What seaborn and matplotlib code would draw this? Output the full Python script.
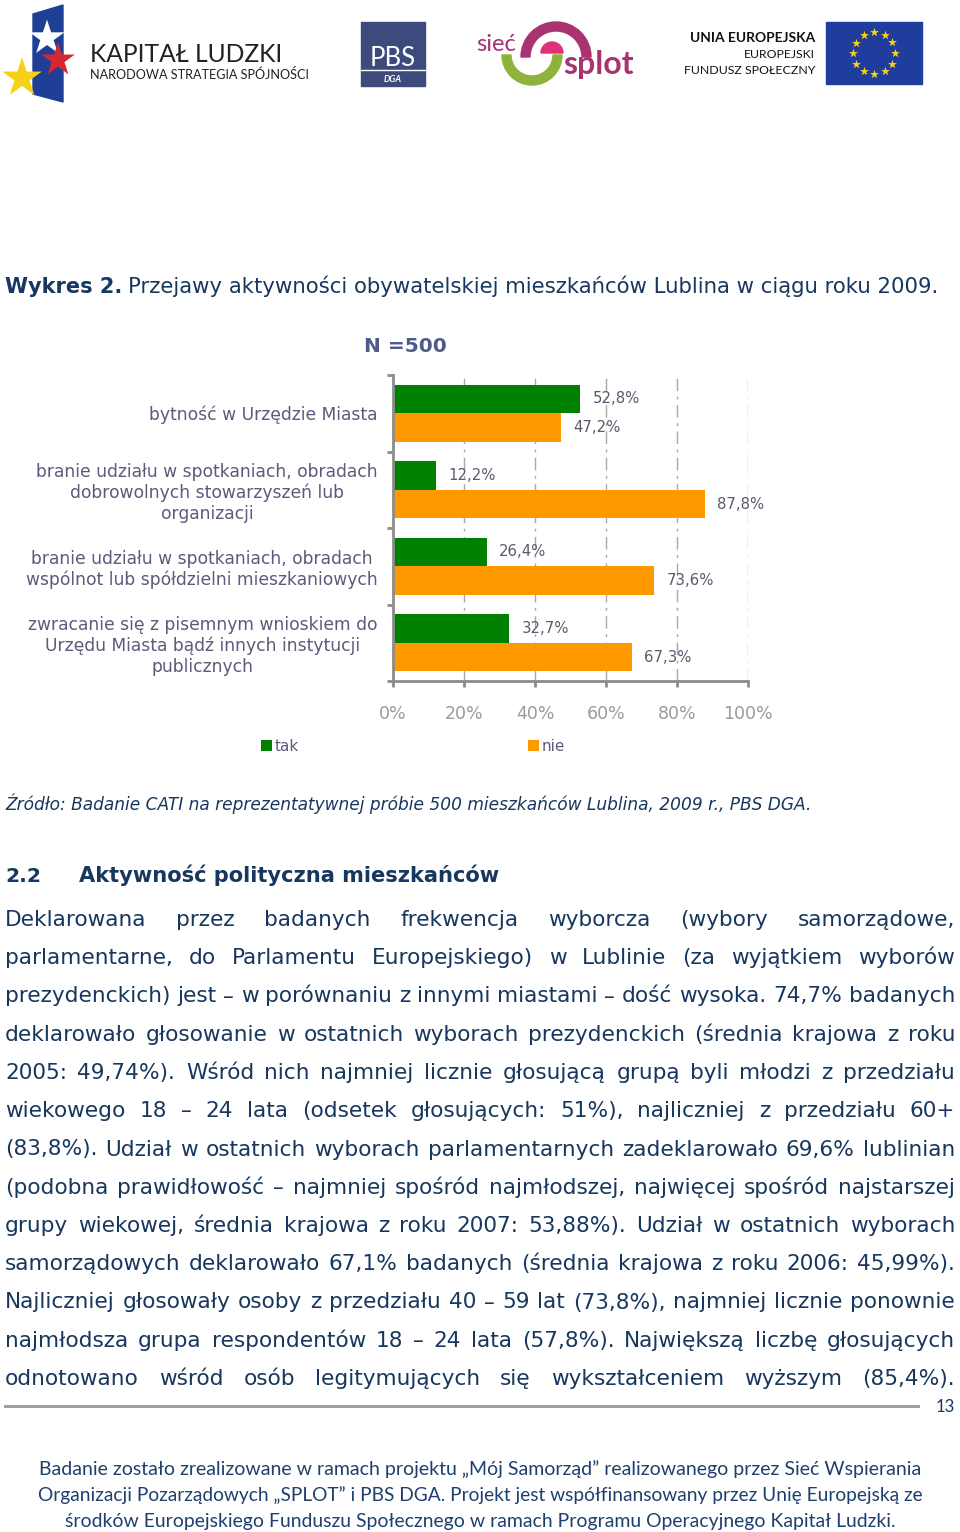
import numpy as np
import pandas as pd
import matplotlib
matplotlib.use('Agg')
import matplotlib.pyplot as plt
import matplotlib.font_manager as fm
from matplotlib.patches import Rectangle, Polygon, Wedge
import seaborn as sns

# data
kategorie = [
    'bytność w Urzędzie Miasta',
    'branie udziału w spotkaniach, obradach\ndobrowolnych stowarzyszeń lub\norganizacji',
    'branie udziału w spotkaniach, obradach\nwspólnot lub spółdzielni mieszkaniowych',
    'zwracanie się z pisemnym wnioskiem do\nUrzędu Miasta bądź innych instytucji\npublicznych',
]
tak = [52.8, 12.2, 26.4, 32.7]
nie = [47.2, 87.8, 73.6, 67.3]
odpowiedzi = ['tak', 'nie']
x_ticks = [0, 20, 40, 60, 80, 100]

body_lines = [
    'Deklarowana przez badanych frekwencja wyborcza (wybory samorządowe,',
    'parlamentarne, do Parlamentu Europejskiego) w Lublinie (za wyjątkiem wyborów',
    'prezydenckich) jest – w porównaniu z innymi miastami – dość wysoka. 74,7% badanych',
    'deklarowało głosowanie w ostatnich wyborach prezydenckich (średnia krajowa z roku',
    '2005: 49,74%). Wśród nich najmniej licznie głosującą grupą byli młodzi z przedziału',
    'wiekowego 18 – 24 lata (odsetek głosujących: 51%), najliczniej z przedziału 60+',
    '(83,8%). Udział w ostatnich wyborach parlamentarnych zadeklarowało 69,6% lublinian',
    '(podobna prawidłowość – najmniej spośród najmłodszej, najwięcej spośród najstarszej',
    'grupy wiekowej, średnia krajowa z roku 2007: 53,88%). Udział w ostatnich wyborach',
    'samorządowych deklarowało 67,1% badanych (średnia krajowa z roku 2006: 45,99%).',
    'Najliczniej głosowały osoby z przedziału 40 – 59 lat (73,8%), najmniej licznie ponownie',
    'najmłodsza grupa respondentów 18 – 24 lata (57,8%). Największą liczbę głosujących',
    'odnotowano wśród osób legitymujących się wykształceniem wyższym (85,4%).',
]
footer_lines = [
    'Badanie zostało zrealizowane w ramach projektu „Mój Samorząd” realizowanego przez Sieć Wspierania',
    'Organizacji Pozarządowych „SPLOT” i PBS DGA. Projekt jest współfinansowany przez Unię Europejską ze',
    'środków Europejskiego Funduszu Społecznego w ramach Programu Operacyjnego Kapitał Ludzki.',
]

fonts = {f.name for f in fm.fontManager.ttflist}
narrow = 'Liberation Sans Narrow' if 'Liberation Sans Narrow' in fonts else 'Lato'
calibri = 'Lato' if 'Lato' in fonts else 'DejaVu Sans'
plt.rcParams['font.family'] = ['DejaVu Sans']

navy = '#17375e'
slate = '#5b5b7b'

fig = plt.figure(figsize=(9.6, 15.32), dpi=100)
bg = fig.add_axes([0, 0, 1, 1])
bg.set_xlim(0, 960)
bg.set_ylim(1532, 0)
bg.axis('off')
renderer = fig.canvas.get_renderer()


def place(x, y, s, width=None, size=12, **kw):
    kw.setdefault('va', 'baseline')
    t = bg.text(x, y, s, fontsize=size, **kw)
    if width:
        w = t.get_window_extent(renderer).width
        t.set_fontsize(size * width / w)
    return t


# logos
bg.add_patch(Polygon([(33, 14), (63, 5), (63, 102), (33, 94)], color='#1f3f96'))
bg.scatter([47, 58, 22], [38, 60, 78], marker='*', s=[700, 650, 900],
           c=['white', '#d7262e', '#f7d117'], zorder=3, linewidths=0)
place(90, 62, 'KAPITAŁ LUDZKI', width=192, family=narrow, color='#222222')
place(90, 79, 'NARODOWA STRATEGIA SPÓJNOŚCI', width=219, family=narrow, color='#222222')

bg.add_patch(Rectangle((361, 22), 64, 64, color='#3d4a7c'))
bg.plot([361, 425], [70, 70], color='white', lw=1)
place(393, 66, 'PBS', width=46, family=narrow, color='white', ha='center')
place(393, 82, 'DGA', width=18, family=narrow, color='white', ha='center', style='italic',
      weight='bold')

bg.add_patch(Wedge((556, 57), 35, 180, 360, width=9, color='#a8336f'))
bg.add_patch(Wedge((552, 53), 11, 180, 360, color='#e0307a'))
bg.add_patch(Wedge((532, 55), 30, 0, 180, width=9, color='#8db33a'))
place(476, 51, 'sieć', width=40, family=calibri, color='#a8336f')
place(563, 74, 'splot', width=70, family=calibri, color='#a8336f', weight='bold')

place(815, 42, 'UNIA EUROPEJSKA', width=125, family=narrow, color='#111111', ha='right',
      weight='bold')
place(815, 58, 'EUROPEJSKI', width=71, family=narrow, color='#111111', ha='right')
place(815, 74, 'FUNDUSZ SPOŁECZNY', width=131, family=narrow, color='#111111', ha='right')
bg.add_patch(Rectangle((826, 22), 96, 62, color='#1f3d9c'))
kat = np.linspace(0, 2 * np.pi, 13)[:-1]
bg.scatter(874 + 21 * np.cos(kat), 53 + 21 * np.sin(kat), marker='*', s=45,
           c='#f8d21a', linewidths=0, zorder=3)

# title
t1 = place(5, 293, 'Wykres 2.', size=15, color='#163763', weight='bold')
w1 = t1.get_window_extent(renderer).width
place(5 + w1 + 6, 293, 'Przejawy aktywności obywatelskiej mieszkańców Lublina w ciągu roku 2009.',
      width=933 - w1 - 6, color=navy)

# chart
df = pd.DataFrame({
    'kategoria': kategorie * 2,
    'odpowiedz': ['tak'] * 4 + ['nie'] * 4,
    'procent': tak + nie,
})
ax = fig.add_axes([393 / 960, (1532 - 681) / 1532, 355 / 960, 306 / 1532])
sns.barplot(data=df, y='kategoria', x='procent', hue='odpowiedz', hue_order=odpowiedzi,
            palette={'tak': '#008000', 'nie': '#ff9900'}, orient='h', width=0.75,
            saturation=1, ax=ax)
for cont, vals in zip(ax.containers, [tak, nie]):
    ax.bar_label(cont, labels=[f'{v:.1f}%'.replace('.', ',') for v in vals], padding=9,
                 fontsize=10.7, color='#5a5a6e')
ax.set_xlim(0, 100)
ax.set_ylim(3.5, -0.5)
ax.set_xticks(x_ticks)
ax.set_xticklabels([f'{v}%' for v in x_ticks], color='#9a9a9a', fontsize=12.5)
ax.set_yticks(range(4))
ax.set_yticklabels(kategorie, color=slate, fontsize=12.3, multialignment='center',
                   linespacing=1.2)
ax.set_yticks([-0.5, 0.5, 1.5, 2.5, 3.5], minor=True)
ax.tick_params(axis='y', which='major', length=0, pad=11)
ax.tick_params(axis='y', which='minor', length=4, width=2, color='#8c8c8c')
ax.tick_params(axis='x', length=4, width=2, color='#8c8c8c', pad=13)
ax.set_xlabel('')
ax.set_ylabel('')
ax.xaxis.grid(True, color='#a8a8a8', linestyle=(0, (9, 4, 2, 4)), linewidth=1)
ax.set_axisbelow(True)
for s in ['top', 'right']:
    ax.spines[s].set_visible(False)
for s in ['left', 'bottom']:
    ax.spines[s].set_color('#8c8c8c')
    ax.spines[s].set_linewidth(2)
ax.set_facecolor('none')
handles, labels = ax.get_legend_handles_labels()
ax.legend(handles, labels, ncol=2, loc='center', bbox_to_anchor=(413 / 960, 1 - 746 / 1532),
          bbox_transform=fig.transFigure, frameon=False, fontsize=11, labelcolor=slate,
          handlelength=0.7, handleheight=0.7, handletextpad=0.2, columnspacing=15)

place(405, 352, 'N =500', size=14.5, color='#4f5a8a', weight='bold', ha='center')

# source, heading
place(5, 810, 'Źródło: Badanie CATI na reprezentatywnej próbie 500 mieszkańców Lublina, 2009 r., PBS DGA.',
      width=808, color=navy, style='italic')
place(5, 882, '2.2', width=36, color=navy, weight='bold')
place(79, 882, 'Aktywność polityczna mieszkańców', width=419, color=navy, weight='bold')

# justified body text
probe = place(5, 0, body_lines[2], width=945, color=navy)
body_size = probe.get_fontsize()
probe.remove()
for i, line in enumerate(body_lines):
    y = 926 + i * 38.25
    words = line.split(' ')
    texts = [bg.text(5, y, w, fontsize=body_size, color=navy, va='baseline') for w in words]
    widths = [t.get_window_extent(renderer).width for t in texts]
    gap = (950 - sum(widths)) / (len(words) - 1)
    x = 5
    for t, w in zip(texts, widths):
        t.set_x(x)
        x += w + gap

bg.plot([5, 918], [1406, 1406], color='#a0a0a0', lw=2.2)
place(945, 1412, '13', size=12, color=navy, ha='center', family=calibri)

for i, (line, wd) in enumerate(zip(footer_lines, [880, 884, 826])):
    place(480, 1475 + i * 26, line, width=wd, color='#1f3f6f', ha='center', family=calibri)

fig.savefig('out.png', dpi=100)
